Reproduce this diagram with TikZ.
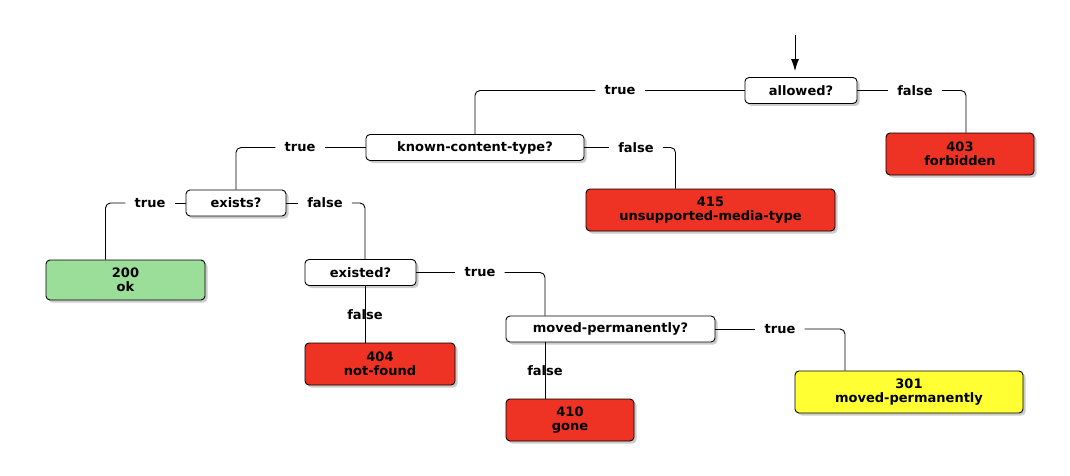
\documentclass[tikz,border=0pt]{standalone}
\usepackage{fontspec}
\setmainfont{DejaVu Sans}
\usetikzlibrary{arrows.meta,shadows}

\definecolor{errred}{RGB}{238,50,36}
\definecolor{okgreen}{RGB}{154,222,154}
\definecolor{movedyellow}{RGB}{255,255,51}

\tikzset{
    question/.style={draw, fill=white, rounded corners=4pt, line width=0.9pt,
        minimum height=26pt, inner sep=0pt,
        drop shadow={shadow xshift=2.5pt, shadow yshift=-2.5pt, opacity=0.4}},
    outcome/.style={question, minimum height=42pt, align=center},
    branch/.style={inner xsep=9pt, inner ysep=2pt},
    wire/.style={line width=0.9pt, rounded corners=5pt}
}

\begin{document}
\begin{tikzpicture}[x=1pt, y=-1pt, font=\fontsize{13}{14}\selectfont\bfseries]
    % Fix the canvas
    \useasboundingbox (0,0) rectangle (1070,476);

    % Questions
    \node[question, minimum width=112pt] (allowed) at (801,90.5) {allowed?};
    \node[question, minimum width=218pt] (known) at (475,147.5) {known-content-type?};
    \node[question, minimum width=100pt] (exists) at (236,203) {exists?};
    \node[question, minimum width=111pt] (existed) at (360.5,272.5) {existed?};
    \node[question, minimum width=209pt] (moved) at (610.5,329) {moved-permanently?};

    % Outcomes
    \node[outcome, fill=errred, minimum width=148pt] (forbidden) at (960,154) {403\\forbidden};
    \node[outcome, fill=errred, minimum width=249pt] (unsupported) at (710.5,210) {415\\unsupported-media-type};
    \node[outcome, fill=okgreen, minimum width=159pt, minimum height=40pt] (ok) at (125.5,280) {200\\ok};
    \node[outcome, fill=errred, minimum width=150pt] (notfound) at (380,364) {404\\not-found};
    \node[outcome, fill=errred, minimum width=128pt] (gone) at (570,420) {410\\gone};
    \node[outcome, fill=movedyellow, minimum width=228pt] (permanent) at (909,392) {301\\moved-permanently};

    % Branch labels
    \node[branch] (allowedT) at (620,90.5) {true};
    \node[branch] (allowedF) at (915,90.5) {false};
    \node[branch] (knownT) at (300,147.5) {true};
    \node[branch] (knownF) at (636,147.5) {false};
    \node[branch] (existsT) at (150,203) {true};
    \node[branch] (existsF) at (325,203) {false};
    \node[branch] (existedT) at (480,272.5) {true};
    \node[branch] (existedF) at (365,315) {false};
    \node[branch] (movedT) at (780,329) {true};
    \node[branch] (movedF) at (545,371) {false};

    % Entry arrow
    \coordinate (entry) at (795,35);
    \draw[line width=0.9pt, -{Latex[length=12pt,width=8pt]}, shorten >=6pt]
        (entry) -- (entry |- allowed.north);

    % Connectors
    \draw[wire] (allowed) -- (allowedT);
    \draw[wire] (allowedT) -| (known.north);
    \draw[wire] (allowed) -- (allowedF);
    \draw[wire] (allowedF) -| ([xshift=6pt]forbidden.north);

    \draw[wire] (known) -- (knownT);
    \draw[wire] (knownT) -| (exists.north);
    \draw[wire] (known) -- (knownF);
    \draw[wire] (knownF) -| ([xshift=-35pt]unsupported.north);

    \draw[wire] (exists) -- (existsT);
    \draw[wire] (existsT) -| ([xshift=-20pt]ok.north);
    \draw[wire] (exists) -- (existsF);
    \draw[wire] (existsF) -| ([xshift=4.5pt]existed.north);

    \draw[wire] (existed) -- (existedT);
    \draw[wire] (existedT) -| ([xshift=-65.5pt]moved.north);
    \draw[wire] (existed.south -| existedF) -- (notfound.north -| existedF);

    \draw[wire] (moved) -- (movedT);
    \draw[wire] (movedT) -| ([xshift=-64pt]permanent.north);
    \draw[wire] (moved.south -| movedF) -- (gone.north -| movedF);
\end{tikzpicture}
\end{document}
